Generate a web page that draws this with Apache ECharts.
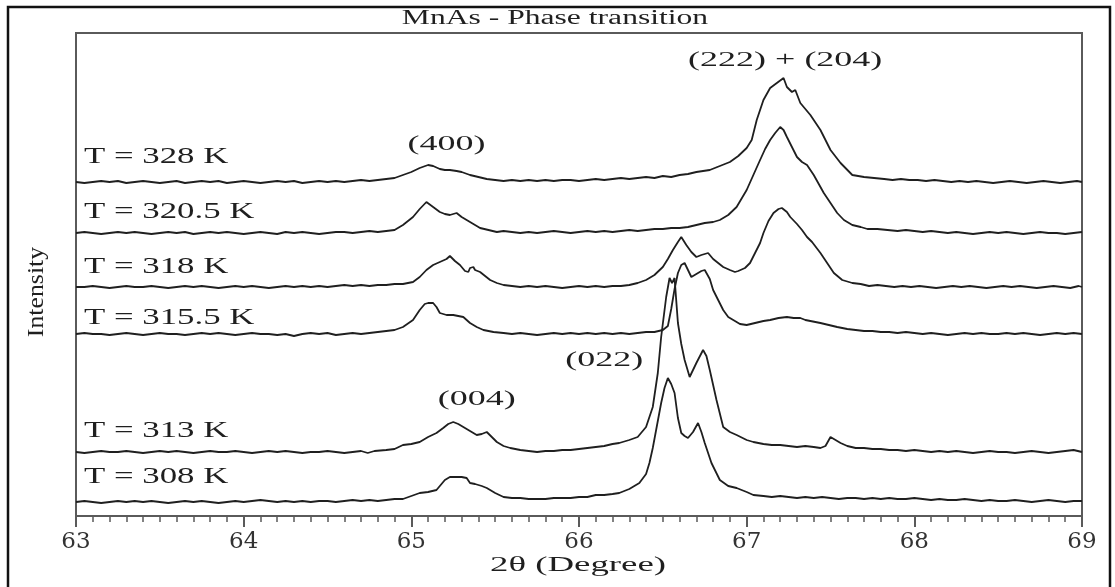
<!DOCTYPE html>
<html>
<head>
<meta charset="utf-8">
<title>MnAs - Phase transition</title>
<script src="https://cdn.jsdelivr.net/npm/echarts@6/dist/echarts.min.js"></script>
<style>
  html, body { margin: 0; padding: 0; background: #fff; }
  #box { width: 1115px; height: 587px; }
</style>
</head>
<body>
<div id="box"></div>
<script>
// temperatures of the six scans, top to bottom
var temps = ['T = 328 K', 'T = 320.5 K', 'T = 318 K', 'T = 315.5 K', 'T = 313 K', 'T = 308 K']
// vertical offset of each scan (arbitrary intensity units)
var offsets = [334, 283, 229, 182, 64, 14]
// where the temperature text sits, in the same units
var labelLevel = [359, 304, 249, 198, 85, 39]

// each scan: [2theta, intensity above its own baseline]
var t328 = [[63.00,0],[63.05,-1],[63.10,0],[63.15,1],[63.20,0],[63.25,1],[63.30,-1],[63.35,0],[63.40,1],[63.45,0],[63.50,-1],[63.55,0],[63.60,1],[63.65,-1],[63.70,0],[63.75,1],[63.80,0],[63.85,1],[63.90,-1],[63.95,0],[64.00,1],[64.05,0],[64.10,-1],[64.15,0],[64.20,1],[64.25,0],[64.30,1],[64.35,-1],[64.40,0],[64.45,1],[64.50,0],[64.55,1],[64.60,0],[64.65,1],[64.70,2],[64.75,1],[64.80,2],[64.85,3],[64.90,4],[64.95,7],[65.00,10],[65.05,14],[65.10,17],[65.13,16],[65.17,13],[65.20,12],[65.23,12],[65.27,11],[65.30,10],[65.35,7],[65.40,5],[65.45,3],[65.50,2],[65.55,1],[65.60,2],[65.65,1],[65.70,2],[65.75,1],[65.80,2],[65.85,1],[65.90,2],[65.95,2],[66.00,1],[66.05,2],[66.10,3],[66.15,2],[66.20,3],[66.25,4],[66.30,3],[66.35,4],[66.40,5],[66.45,4],[66.50,6],[66.55,5],[66.60,7],[66.65,8],[66.70,10],[66.74,11],[66.78,12],[66.84,16],[66.90,20],[66.95,26],[67.00,34],[67.03,42],[67.06,62],[67.10,82],[67.14,94],[67.18,99],[67.22,104],[67.24,95],[67.27,90],[67.29,92],[67.32,79],[67.38,67],[67.44,52],[67.50,32],[67.56,19],[67.63,7],[67.70,5],[67.76,4],[67.82,3],[67.87,2],[67.92,3],[67.97,2],[68.02,2],[68.07,1],[68.12,2],[68.17,1],[68.22,0],[68.27,1],[68.32,0],[68.37,1],[68.42,0],[68.47,-1],[68.52,0],[68.57,1],[68.62,0],[68.67,-1],[68.72,0],[68.77,1],[68.82,0],[68.87,-1],[68.92,0],[68.97,1],[69.00,0]]

var t3205 = [[63.00,0],[63.05,1],[63.10,0],[63.15,-1],[63.20,0],[63.25,1],[63.30,0],[63.35,1],[63.40,0],[63.45,-1],[63.50,0],[63.55,1],[63.60,0],[63.65,1],[63.70,-1],[63.75,0],[63.80,1],[63.85,0],[63.90,1],[63.95,0],[64.00,-1],[64.05,0],[64.10,1],[64.15,0],[64.20,-1],[64.25,1],[64.30,0],[64.35,1],[64.40,0],[64.45,-1],[64.50,0],[64.55,1],[64.60,1],[64.65,0],[64.70,1],[64.75,2],[64.80,1],[64.85,2],[64.90,3],[64.95,8],[65.01,16],[65.05,24],[65.09,31],[65.13,26],[65.17,21],[65.20,19],[65.23,18],[65.27,20],[65.30,16],[65.33,13],[65.37,9],[65.41,5],[65.46,3],[65.51,1],[65.55,2],[65.60,1],[65.65,0],[65.70,1],[65.75,0],[65.80,1],[65.85,2],[65.90,1],[65.95,0],[66.00,1],[66.05,2],[66.10,1],[66.15,2],[66.20,1],[66.25,2],[66.30,3],[66.35,2],[66.40,3],[66.45,4],[66.50,4],[66.55,5],[66.60,5],[66.65,6],[66.70,8],[66.75,10],[66.80,11],[66.84,13],[66.89,18],[66.94,26],[67.00,43],[67.04,58],[67.08,73],[67.11,84],[67.14,93],[67.17,100],[67.20,106],[67.22,103],[67.24,96],[67.27,86],[67.30,76],[67.33,71],[67.36,68],[67.40,58],[67.43,49],[67.46,40],[67.50,30],[67.54,20],[67.58,13],[67.63,8],[67.68,6],[67.72,4],[67.78,4],[67.84,3],[67.90,2],[67.95,3],[68.00,2],[68.05,1],[68.10,2],[68.15,1],[68.20,0],[68.25,1],[68.30,0],[68.35,-1],[68.40,0],[68.45,1],[68.50,0],[68.55,1],[68.60,0],[68.65,-1],[68.70,0],[68.75,1],[68.80,0],[68.85,0],[68.90,-1],[68.95,0],[69.00,1]]

var t318 = [[63.00,0],[63.05,0],[63.10,1],[63.15,0],[63.20,-1],[63.25,0],[63.30,1],[63.35,0],[63.40,0],[63.45,1],[63.50,0],[63.55,-1],[63.60,0],[63.65,1],[63.70,0],[63.75,1],[63.80,0],[63.85,-1],[63.90,0],[63.95,1],[64.00,0],[64.05,1],[64.10,0],[64.15,-1],[64.20,0],[64.25,1],[64.30,0],[64.35,1],[64.40,0],[64.45,1],[64.50,0],[64.55,1],[64.60,2],[64.65,1],[64.70,2],[64.75,1],[64.80,2],[64.85,2],[64.90,3],[64.95,3],[65.01,5],[65.05,10],[65.09,17],[65.13,22],[65.17,25],[65.21,28],[65.23,31],[65.26,26],[65.29,22],[65.32,16],[65.34,15],[65.35,19],[65.37,20],[65.38,17],[65.41,15],[65.44,11],[65.47,7],[65.51,4],[65.55,2],[65.60,1],[65.65,0],[65.70,1],[65.75,0],[65.80,1],[65.85,0],[65.90,-1],[65.95,0],[66.00,1],[66.05,0],[66.10,1],[66.15,0],[66.20,1],[66.25,1],[66.30,2],[66.35,4],[66.40,7],[66.45,12],[66.50,20],[66.53,28],[66.56,37],[66.59,45],[66.61,50],[66.64,42],[66.67,35],[66.70,30],[66.73,32],[66.77,34],[66.80,28],[66.83,24],[66.86,20],[66.90,17],[66.93,15],[66.95,16],[66.96,14],[66.99,19],[67.02,24],[67.05,34],[67.08,44],[67.10,54],[67.13,66],[67.16,74],[67.19,78],[67.21,79],[67.24,75],[67.26,70],[67.30,63],[67.33,57],[67.36,50],[67.39,45],[67.44,34],[67.48,24],[67.52,14],[67.57,7],[67.63,4],[67.68,3],[67.73,1],[67.78,2],[67.83,1],[67.88,0],[67.93,1],[67.98,0],[68.03,1],[68.08,0],[68.13,-1],[68.18,0],[68.23,1],[68.28,0],[68.33,1],[68.38,0],[68.43,-1],[68.48,0],[68.53,1],[68.58,0],[68.63,1],[68.68,0],[68.73,-1],[68.78,0],[68.83,1],[68.88,0],[68.93,-1],[68.98,1],[69.00,0]]

var t3155 = [[63.00,0],[63.05,1],[63.10,0],[63.15,0],[63.20,-1],[63.25,0],[63.30,1],[63.35,0],[63.40,-1],[63.45,0],[63.50,1],[63.55,0],[63.60,0],[63.65,-1],[63.70,0],[63.75,1],[63.80,0],[63.85,1],[63.90,0],[63.95,-1],[64.00,0],[64.05,1],[64.10,0],[64.15,0],[64.20,-1],[64.25,0],[64.30,-2],[64.35,0],[64.40,1],[64.45,0],[64.50,1],[64.55,-1],[64.60,0],[64.65,1],[64.70,0],[64.75,1],[64.80,2],[64.85,3],[64.90,4],[64.95,7],[65.01,14],[65.05,24],[65.08,30],[65.10,31],[65.13,31],[65.15,27],[65.17,21],[65.21,19],[65.25,19],[65.28,18],[65.31,17],[65.35,11],[65.39,7],[65.43,4],[65.49,2],[65.55,1],[65.60,0],[65.65,1],[65.70,0],[65.75,-1],[65.80,0],[65.85,1],[65.90,0],[65.95,1],[66.00,0],[66.05,1],[66.10,0],[66.15,1],[66.20,0],[66.25,1],[66.30,0],[66.35,1],[66.40,2],[66.45,2],[66.50,4],[66.53,8],[66.55,25],[66.57,45],[66.59,61],[66.61,69],[66.63,71],[66.65,64],[66.67,57],[66.70,60],[66.73,63],[66.75,64],[66.78,55],[66.80,44],[66.83,34],[66.86,24],[66.89,17],[66.92,14],[66.96,10],[67.00,9],[67.05,11],[67.10,13],[67.14,14],[67.19,16],[67.24,17],[67.28,16],[67.32,16],[67.35,14],[67.38,13],[67.44,11],[67.49,9],[67.54,7],[67.60,5],[67.65,4],[67.70,3],[67.75,3],[67.80,2],[67.85,2],[67.90,1],[67.95,2],[68.00,1],[68.05,0],[68.10,1],[68.15,0],[68.20,-1],[68.25,0],[68.30,1],[68.35,0],[68.40,1],[68.45,0],[68.50,0],[68.55,1],[68.60,0],[68.65,1],[68.70,0],[68.75,-1],[68.80,0],[68.85,1],[68.90,0],[68.95,1],[69.00,0]]

var t313 = [[63.00,0],[63.05,-1],[63.10,0],[63.15,1],[63.20,0],[63.25,0],[63.30,1],[63.35,0],[63.40,-1],[63.45,0],[63.50,1],[63.55,0],[63.60,1],[63.65,0],[63.70,-1],[63.75,0],[63.80,1],[63.85,0],[63.90,0],[63.95,1],[64.00,0],[64.05,-1],[64.10,0],[64.15,1],[64.20,0],[64.25,1],[64.30,0],[64.35,-1],[64.40,0],[64.45,0],[64.50,1],[64.55,0],[64.60,-1],[64.65,0],[64.70,1],[64.74,-1],[64.78,1],[64.85,2],[64.90,3],[64.95,7],[65.00,8],[65.05,10],[65.10,15],[65.15,19],[65.19,24],[65.22,28],[65.25,30],[65.28,28],[65.31,25],[65.35,21],[65.39,17],[65.42,18],[65.45,20],[65.48,15],[65.51,10],[65.55,6],[65.59,4],[65.65,2],[65.70,1],[65.75,0],[65.80,1],[65.85,1],[65.90,2],[65.95,2],[66.00,3],[66.05,4],[66.10,5],[66.15,6],[66.20,8],[66.24,9],[66.30,12],[66.35,15],[66.40,25],[66.44,45],[66.47,79],[66.49,115],[66.52,155],[66.54,174],[66.555,169],[66.57,174],[66.59,129],[66.61,108],[66.63,92],[66.66,75],[66.70,89],[66.74,102],[66.76,96],[66.78,82],[66.82,52],[66.86,25],[66.90,20],[66.94,17],[67.00,12],[67.04,10],[67.10,8],[67.15,7],[67.20,7],[67.25,6],[67.30,5],[67.35,6],[67.40,5],[67.44,4],[67.47,6],[67.50,15],[67.53,12],[67.56,9],[67.60,6],[67.65,4],[67.70,4],[67.75,3],[67.80,3],[67.85,2],[67.90,2],[67.95,1],[68.00,2],[68.05,1],[68.10,0],[68.15,1],[68.20,0],[68.25,1],[68.30,0],[68.35,-1],[68.40,0],[68.45,1],[68.50,0],[68.55,0],[68.60,-1],[68.65,0],[68.70,1],[68.75,0],[68.80,-1],[68.85,0],[68.90,1],[68.95,2],[69.00,0]]

var t308 = [[63.00,0],[63.05,1],[63.10,0],[63.15,-1],[63.20,0],[63.25,1],[63.30,0],[63.35,1],[63.40,0],[63.45,1],[63.50,0],[63.55,-1],[63.60,0],[63.65,1],[63.70,0],[63.75,1],[63.80,0],[63.85,-1],[63.90,0],[63.95,1],[64.00,0],[64.05,1],[64.10,2],[64.15,1],[64.20,0],[64.25,1],[64.30,0],[64.35,1],[64.40,0],[64.45,1],[64.50,1],[64.55,0],[64.60,1],[64.65,2],[64.70,1],[64.75,2],[64.80,1],[64.85,2],[64.90,3],[64.95,3],[65.00,6],[65.05,9],[65.10,10],[65.15,12],[65.20,22],[65.23,25],[65.27,25],[65.30,25],[65.33,24],[65.35,19],[65.38,18],[65.42,16],[65.45,14],[65.50,9],[65.55,5],[65.60,4],[65.65,4],[65.70,3],[65.75,3],[65.80,3],[65.85,4],[65.90,4],[65.95,4],[66.00,5],[66.05,5],[66.10,7],[66.15,7],[66.20,8],[66.24,9],[66.30,13],[66.36,19],[66.40,28],[66.42,39],[66.44,54],[66.46,72],[66.49,99],[66.51,114],[66.53,124],[66.55,118],[66.57,109],[66.59,84],[66.61,69],[66.63,66],[66.65,64],[66.68,70],[66.71,79],[66.73,70],[66.75,59],[66.79,39],[66.84,22],[66.89,16],[66.94,14],[67.00,10],[67.04,7],[67.10,6],[67.15,5],[67.20,6],[67.25,5],[67.30,4],[67.35,5],[67.40,4],[67.45,5],[67.50,4],[67.55,3],[67.60,4],[67.65,4],[67.70,3],[67.75,4],[67.80,3],[67.85,4],[67.90,3],[67.95,3],[68.00,4],[68.05,3],[68.10,2],[68.15,3],[68.20,2],[68.25,2],[68.30,3],[68.35,2],[68.40,1],[68.45,2],[68.50,1],[68.55,1],[68.60,2],[68.65,1],[68.70,0],[68.75,1],[68.80,2],[68.85,1],[68.90,0],[68.95,1],[69.00,1]]

var scans = [t328, t3205, t318, t3155, t313, t308]

// reflection labels and where they sit [2theta, level]
var peakNames = ['(400)', '(222) + (204)', '(022)', '(004)']
var peakPos = [[65.21, 371], [67.23, 455], [66.15, 155], [65.39, 116]]

var xTicks = { min: 63, max: 69, interval: 1 }

var ink = '#1f1f1f'
var serif = '"Liberation Serif", "Times New Roman", serif'

var Chart = echarts.init(document.getElementById('box'))

var series = scans.map(function (scan, i) {
    return {
        name: temps[i],
        type: 'line',
        showSymbol: false,
        symbol: 'none',
        animation: false,
        lineStyle: { color: ink, width: 1.8 },
        data: scan.map(function (p) { return [p[0], p[1] + offsets[i]] })
    }
})

var option = {
    animation: false,
    grid: {
        left: 76, right: 33, top: 33, bottom: 71,
        show: true, borderColor: '#5a5a5a', borderWidth: 2
    },
    xAxis: {
        type: 'value',
        min: xTicks.min,
        max: xTicks.max,
        interval: xTicks.interval,
        axisLine: { show: true, lineStyle: { color: '#5a5a5a', width: 2 } },
        axisTick: { show: true, inside: false, length: 11, lineStyle: { color: '#5a5a5a', width: 2 } },
        minorTick: { show: true, splitNumber: 10, length: 6, lineStyle: { color: '#5a5a5a', width: 1.5 } },
        splitLine: { show: false },
        axisLabel: { color: '#333', fontFamily: '"DejaVu Serif", serif', fontSize: 23, margin: 15 }
    },
    yAxis: {
        type: 'value',
        min: 0,
        max: 483,
        axisLine: { show: true, lineStyle: { color: '#5a5a5a', width: 2 } },
        axisTick: { show: false },
        axisLabel: { show: false },
        splitLine: { show: false }
    },
    series: series
}
Chart.setOption(option)

// text pieces are stretched wide like the scanned figure
function stretched(text, x, y, size, sx, align, extra) {
    var el = {
        type: 'text',
        x: x,
        y: y,
        scaleX: sx,
        silent: true,
        z: 10,
        style: {
            text: text,
            fill: ink,
            fontFamily: serif,
            fontSize: size,
            align: align,
            verticalAlign: 'middle'
        }
    }
    if (extra) {
        for (var k in extra) el[k] = extra[k]
    }
    return el
}

var graphics = [
    {
        type: 'rect',
        silent: true,
        shape: { x: 8, y: 7, width: 1102, height: 620 },
        style: { fill: 'none', stroke: '#111', lineWidth: 2.5 }
    },
    stretched('MnAs - Phase transition', 555, 19, 20, 1.58, 'center'),
    stretched('2θ (Degree)', 578, 566, 20, 1.84, 'center'),
    stretched('Intensity', 37, 292, 20, 1.29, 'center', { rotation: Math.PI / 2, scaleY: 1.15 })
]

temps.forEach(function (t, i) {
    var p = Chart.convertToPixel({ gridIndex: 0 }, [63, labelLevel[i]])
    graphics.push(stretched(t, p[0] + 8, p[1], 24, 1.45, 'left'))
})

peakNames.forEach(function (n, i) {
    var p = Chart.convertToPixel({ gridIndex: 0 }, peakPos[i])
    graphics.push(stretched(n, p[0], p[1], 20, 1.8, 'center'))
})

Chart.setOption({ graphic: graphics })

window.onresize = function () {
    Chart.resize()
}
</script>
</body>
</html>
